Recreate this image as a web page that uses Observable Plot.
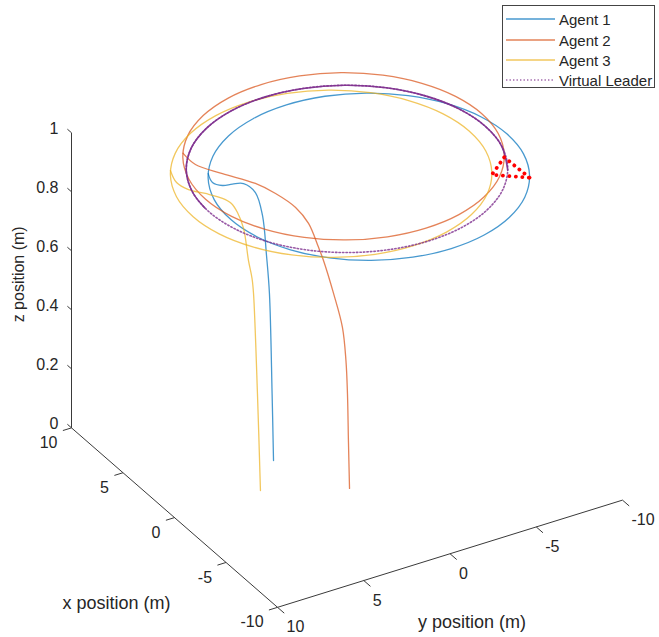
<!DOCTYPE html>
<html>
<head>
<meta charset="utf-8">
<script src="https://cdn.jsdelivr.net/npm/d3@7"></script>
<script src="https://cdn.jsdelivr.net/npm/@observablehq/plot@0.6"></script>
<style>
  html, body { margin: 0; padding: 0; background: #fff; }
  #wrap { position: relative; width: 659px; height: 637px; font-family: "Liberation Sans", Arial, sans-serif; }
  #legend { position: absolute; left: 502px; top: 5px; width: 151px; height: 81px; border: 1px solid #444; background: #fff; }
  #legend .row { position: absolute; left: 3px; height: 20px; display: flex; align-items: center; font-size: 15px; color: #262626; white-space: nowrap; }
  #legend svg { display: block; margin-right: 3px; }
</style>
</head>
<body>
<div id="wrap"></div>
<script>
// ---------------- data (metres) ----------------
// Agent 1: take-off and climb until it joins its orbit
const agent1ApproachX = [2.16, 1.88, 1.92, 1.97, 2.21, 2.58, 2.89, 2.65, 2.42, 2.56, 3.16];
const agent1ApproachY = [2.97, 3.22, 3.35, 3.49, 3.58, 3.77, 4.27, 5.06, 5.77, 6.27, 6.16];
const agent1ApproachZ = [0, 0.24, 0.58, 0.71, 0.84, 0.91, 0.94, 0.96, 0.975, 0.99, 1];
// Agent 1 orbit at z = 1 (every 15 degrees)
const agent1OrbitX = [6.80, 6.53, 5.73, 4.46, 2.80, 0.87, -1.20, -3.27, -5.20, -6.86, -8.13, -8.93,
  -9.20, -8.93, -8.13, -6.86, -5.20, -3.27, -1.20, 0.87, 2.80, 4.46, 5.73, 6.53];
const agent1OrbitY = [-0.55, 1.52, 3.45, 5.11, 6.38, 7.18, 7.45, 7.18, 6.38, 5.11, 3.45, 1.52,
  -0.55, -2.62, -4.55, -6.21, -7.48, -8.28, -8.55, -8.28, -7.48, -6.21, -4.55, -2.62];

// Agent 2
const agent2ApproachX = [-2.07, -1.98, -1.97, -1.89, -1.75, -1.64, -1.10, -0.87, -0.10, 0.57, 1.26, 2.11, 3.28, 4.35, 5.48];
const agent2ApproachY = [1.09, 1.10, 1.15, 1.19, 1.31, 1.76, 2.02, 2.17, 2.29, 2.64, 3.39, 4.05, 5.26, 6.19, 6.24];
const agent2ApproachZ = [0, 0.16, 0.32, 0.43, 0.54, 0.66, 0.76, 0.80, 0.86, 0.90, 0.94, 0.96, 0.98, 0.995, 1];
const agent2OrbitX = [9.12, 8.85, 8.05, 6.78, 5.12, 3.19, 1.12, -0.95, -2.88, -4.54, -5.81, -6.61,
  -6.88, -6.61, -5.81, -4.54, -2.88, -0.95, 1.12, 3.19, 5.12, 6.78, 8.05, 8.85];
const agent2OrbitY = [-0.47, 1.60, 3.53, 5.19, 6.46, 7.26, 7.53, 7.26, 6.46, 5.19, 3.53, 1.60,
  -0.47, -2.54, -4.47, -6.13, -7.40, -8.20, -8.47, -8.20, -7.40, -6.13, -4.47, -2.54];

// Agent 3
const agent3ApproachX = [0.03, 0.07, 0.15, 0.21, 0.32, 0.90, 1.39, 1.56, 1.84, 2.32, 2.71, 3.35, 4.36];
const agent3ApproachY = [5.00, 5.15, 5.33, 5.38, 5.52, 5.46, 5.52, 5.77, 6.12, 6.82, 7.57, 7.88, 7.63];
const agent3ApproachZ = [0, 0.33, 0.67, 0.72, 0.78, 0.87, 0.91, 0.94, 0.955, 0.97, 0.985, 0.995, 1];
const agent3OrbitX = [8.00, 7.73, 6.93, 5.66, 4.00, 2.07, 0.00, -2.07, -4.00, -5.66, -6.93, -7.73,
  -8.00, -7.73, -6.93, -5.66, -4.00, -2.07, 0.00, 2.07, 4.00, 5.66, 6.93, 7.73];
const agent3OrbitY = [0.92, 2.99, 4.92, 6.58, 7.85, 8.65, 8.92, 8.65, 7.85, 6.58, 4.92, 2.99,
  0.92, -1.15, -3.08, -4.74, -6.01, -6.81, -7.08, -6.81, -6.01, -4.74, -3.08, -1.15];

// Virtual leader: circle r = 8 at z = 1, plus its second (overlapping) lap
const leaderOrbitX = [8.00, 7.73, 6.93, 5.66, 4.00, 2.07, 0.00, -2.07, -4.00, -5.66, -6.93, -7.73,
  -8.00, -7.73, -6.93, -5.66, -4.00, -2.07, 0.00, 2.07, 4.00, 5.66, 6.93, 7.73];
const leaderOrbitY = [0.00, 2.07, 4.00, 5.66, 6.93, 7.73, 8.00, 7.73, 6.93, 5.66, 4.00, 2.07,
  0.00, -2.07, -4.00, -5.66, -6.93, -7.73, -8.00, -7.73, -6.93, -5.66, -4.00, -2.07];
const leaderLap2X = [0.42, 2.07, 4.00, 5.66, 6.93, 7.73, 8.00, 7.73, 6.93, 5.66, 4.00, 2.07, 0.00, -2.07, -4.18];
const leaderLap2Y = [7.99, 7.73, 6.93, 5.66, 4.00, 2.07, 0.00, -2.07, -4.00, -5.66, -6.93, -7.73, -8.00, -7.73, -6.82];
const orbitZ = 1;

// final formation (agent 1, agent 2, agent 3)
const formationX = [-5.38, -3.06, -4.18];
const formationY = [-7.37, -7.29, -5.90];
const formationZ = [1, 1, 1];

// axes
const xDomain = [-10, 10], yDomain = [-10, 10], zDomain = [0, 1];
const xTicks = [-10, -5, 0, 5, 10];
const yTicks = [-10, -5, 0, 5, 10];
const zTicks = [0, 0.2, 0.4, 0.6, 0.8, 1];
const xTickLabels = ["-10", "-5", "0", "5", "10"];
const yTickLabels = ["-10", "-5", "0", "5", "10"];
const zTickLabels = ["0", "0.2", "0.4", "0.6", "0.8", "1"];
const seriesNames = ["Agent 1", "Agent 2", "Agent 3", "Virtual Leader"];

// ---------------- view (orthographic, like MATLAB view) ----------------
const AZ = 120.85 * Math.PI / 180;
const EL = 31.35 * Math.PI / 180;
const Z_ASPECT = 1.72;
const K = 200.9;                 // px per normalized unit
const ORIGIN = [346.5, 463.5];   // where (0,0,0) lands
const W = 659, H = 637;

function proj(x, y, z) {
  const xn = x / 10, yn = y / 10, zn = z * Z_ASPECT;
  return [xn * Math.cos(AZ) - yn * Math.sin(AZ),
          Math.sin(EL) * (xn * Math.sin(AZ) + yn * Math.cos(AZ)) + zn * Math.cos(EL)];
}
const rows = (X, Y, Z) => X.map((x, i) => {
  const [h, v] = proj(x, Y[i], Array.isArray(Z) ? Z[i] : Z); return {h, v};
});

const a1 = rows(agent1ApproachX, agent1ApproachY, agent1ApproachZ), o1 = rows(agent1OrbitX, agent1OrbitY, orbitZ);
const a2 = rows(agent2ApproachX, agent2ApproachY, agent2ApproachZ), o2 = rows(agent2OrbitX, agent2OrbitY, orbitZ);
const a3 = rows(agent3ApproachX, agent3ApproachY, agent3ApproachZ), o3 = rows(agent3OrbitX, agent3OrbitY, orbitZ);
const vl = rows(leaderOrbitX, leaderOrbitY, orbitZ);
const vl2 = rows(leaderLap2X, leaderLap2Y, orbitZ);
const tri = rows(formationX, formationY, formationZ);

const seg = (p, q) => { const [h1, v1] = proj(...p), [h2, v2] = proj(...q); return {h1, v1, h2, v2}; };
const axisLines = [
  seg([xDomain[1], yDomain[1], 0], [xDomain[0], yDomain[1], 0]),
  seg([xDomain[0], yDomain[1], 0], [xDomain[0], yDomain[0], 0]),
  seg([xDomain[1], yDomain[1], zDomain[0]], [xDomain[1], yDomain[1], zDomain[1]])
];
const xTickSegs = xTicks.map(t => seg([t, 10, 0], [t, 10.5, 0]));
const yTickSegs = yTicks.map(t => seg([-10, t, 0], [-10.65, t, 0]));
const zTickSegs = zTicks.map(t => seg([10, 10, t], [10.4, 10, t]));
const xLab = xTicks.map((t, i) => { const [h, v] = proj(t, 10, 0); return {h, v, s: xTickLabels[i]}; });
const yLab = yTicks.map((t, i) => { const [h, v] = proj(-10, t, 0); return {h, v, s: yTickLabels[i]}; });
const zLab = zTicks.map((t, i) => { const [h, v] = proj(10, 10, t); return {h, v, s: zTickLabels[i]}; });
const P = (x, y, z) => { const [h, v] = proj(x, y, z); return [{h, v}]; };

const colors = ["#0072BD", "#D95319", "#EDB120", "#7E2F8E"];
const axisColor = "#3a3a3a";
const FONT = "Liberation Sans, Arial, sans-serif";
const LW = 1.3, LO = 0.72;
const DOTS = "1.4 2.1";

const chart = Plot.plot({
  width: W, height: H, margin: 0,
  style: {background: "#fff", fontFamily: FONT, overflow: "visible"},
  x: {type: "linear", domain: [-ORIGIN[0] / K, (W - ORIGIN[0]) / K], range: [0, W], axis: null},
  y: {type: "linear", domain: [(ORIGIN[1] - H) / K, ORIGIN[1] / K], range: [H, 0], axis: null},
  marks: [
    Plot.link(axisLines, {x1: "h1", y1: "v1", x2: "h2", y2: "v2", stroke: axisColor, strokeWidth: 1}),
    Plot.link(xTickSegs, {x1: "h1", y1: "v1", x2: "h2", y2: "v2", stroke: axisColor, strokeWidth: 1}),
    Plot.link(yTickSegs, {x1: "h1", y1: "v1", x2: "h2", y2: "v2", stroke: axisColor, strokeWidth: 1}),
    Plot.link(zTickSegs, {x1: "h1", y1: "v1", x2: "h2", y2: "v2", stroke: axisColor, strokeWidth: 1}),
    Plot.text(xLab, {x: "h", y: "v", text: "s", textAnchor: "end", dx: -14, dy: 15, fontSize: 16, fill: "#262626"}),
    Plot.text(yLab, {x: "h", y: "v", text: "s", textAnchor: "start", dx: 9, dy: 20, fontSize: 16, fill: "#262626"}),
    Plot.text(zLab, {x: "h", y: "v", text: "s", textAnchor: "end", dx: -13, dy: -4, fontSize: 16, fill: "#262626"}),
    Plot.text(P(0, 10, 0), {x: "h", y: "v", text: () => "x position (m)", dx: -58, dy: 86, fontSize: 18, fill: "#262626"}),
    Plot.text(P(-10, 0, 0), {x: "h", y: "v", text: () => "y position (m)", dx: 22, dy: 69, fontSize: 18, fill: "#262626"}),
    Plot.text(P(10, 10, 0.5), {x: "h", y: "v", text: () => "z position (m)", rotate: -90, dx: -53, dy: -6, fontSize: 16, fill: "#262626"}),
    Plot.line(a1, {x: "h", y: "v", stroke: colors[0], strokeWidth: LW, strokeOpacity: LO, curve: "catmull-rom"}),
    Plot.line(o1, {x: "h", y: "v", stroke: colors[0], strokeWidth: LW, strokeOpacity: LO, curve: "catmull-rom-closed"}),
    Plot.line(a2, {x: "h", y: "v", stroke: colors[1], strokeWidth: LW, strokeOpacity: LO, curve: "catmull-rom"}),
    Plot.line(o2, {x: "h", y: "v", stroke: colors[1], strokeWidth: LW, strokeOpacity: LO, curve: "catmull-rom-closed"}),
    Plot.line(a3, {x: "h", y: "v", stroke: colors[2], strokeWidth: LW, strokeOpacity: LO, curve: "catmull-rom"}),
    Plot.line(o3, {x: "h", y: "v", stroke: colors[2], strokeWidth: LW, strokeOpacity: LO, curve: "catmull-rom-closed"}),
    Plot.line(vl, {x: "h", y: "v", stroke: colors[3], strokeWidth: 1.6, strokeOpacity: 0.8, strokeDasharray: DOTS, curve: "catmull-rom-closed"}),
    Plot.line(vl2, {x: "h", y: "v", stroke: colors[3], strokeWidth: 1.6, strokeOpacity: 0.9, curve: "catmull-rom"}),
    Plot.line(tri, {x: "h", y: "v", stroke: "#FF0000", strokeWidth: 3.8, strokeDasharray: "0.1 6.4", strokeLinecap: "round", curve: "linear-closed"})
  ]
});

const wrap = document.getElementById("wrap");
wrap.appendChild(chart);

// legend
const legend = document.createElement("div");
legend.id = "legend";
const rowTops = [3, 24, 44, 64];
seriesNames.forEach((name, i) => {
  const row = document.createElement("div");
  row.className = "row";
  row.style.top = rowTops[i] + "px";
  const dash = i === 3 ? ` stroke-dasharray="${DOTS}"` : "";
  row.innerHTML = `<svg width="50" height="6"><line x1="0" y1="3" x2="49" y2="3" stroke="${colors[i]}" stroke-opacity="${LO}" stroke-width="1.5"${dash}/></svg><span>${name}</span>`;
  legend.appendChild(row);
});
wrap.appendChild(legend);
</script>
</body>
</html>
